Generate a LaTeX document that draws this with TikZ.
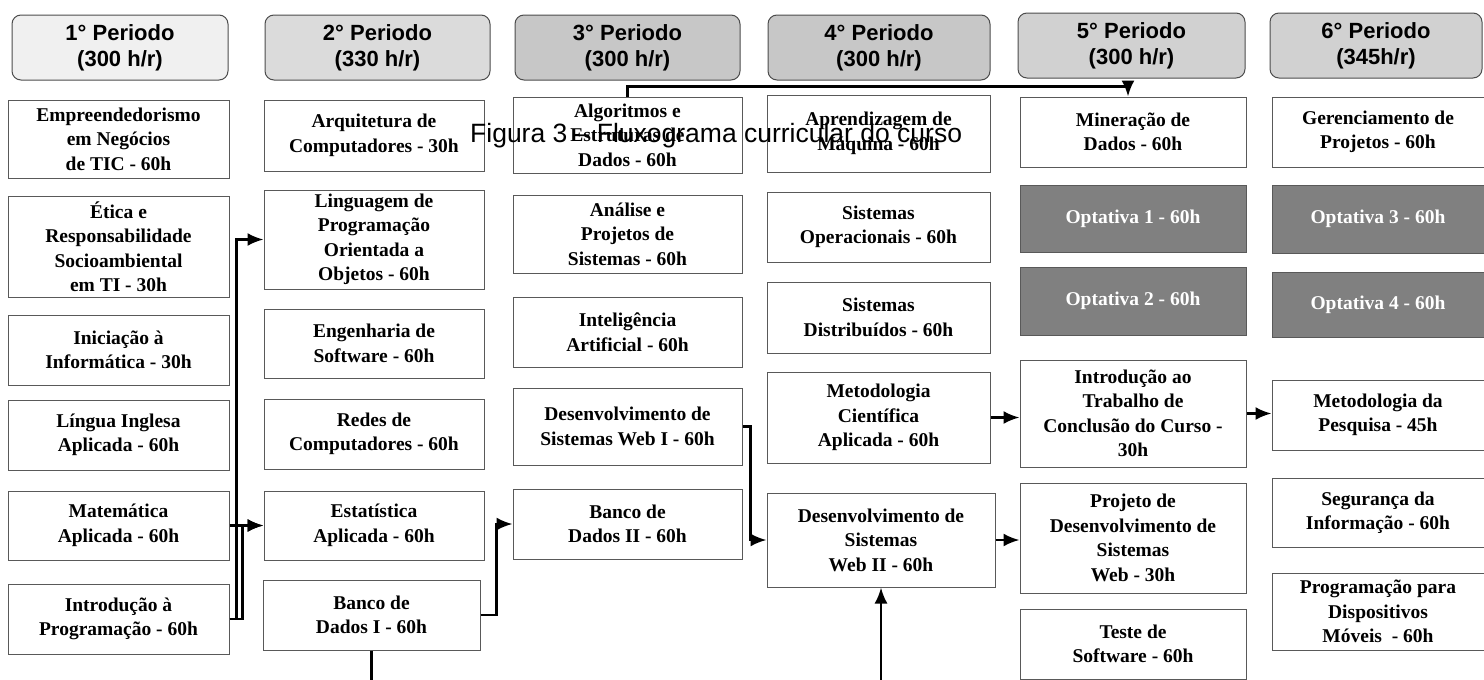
\documentclass[tikz,border=0pt]{standalone}
\usepackage{fontspec}
\setmainfont{Liberation Serif}
\newfontfamily\headfont{Liberation Sans}
\usetikzlibrary{calc}
\usetikzlibrary{arrows.meta}
\usetikzlibrary{positioning}

\begin{document}
\begin{tikzpicture}[x=1pt,y=-1pt]
    \tikzstyle{per}=[draw=black!70, line width=1pt, rounded corners=9pt, minimum height=65pt, inner sep=0pt, align=center, font=\headfont\bfseries\fontsize{22}{26}\selectfont];
    \tikzstyle{disc}=[draw=black!65, line width=1pt, fill=white, inner sep=0pt, align=center, font=\bfseries\fontsize{19.5}{24.5}\selectfont];
    \tikzstyle{opt}=[disc, fill=black!50, text=white];
    \tikzstyle{link}=[line width=2.4pt, -{Latex[length=16pt,width=13pt]}];
    \useasboundingbox (0,0) rectangle (1484,680);
    % periodos
    \foreach \n/\x/\y/\w/\g/\hr in {1/120/47.5/216/6/300 h, 2/377.5/47.5/225/14/330 h, 3/627.5/47.5/225/22/300 h,
                                    4/879/47.5/222/22/300 h, 5/1131.5/45.5/227/18/300 h, 6/1376/45.5/212/18/345h} {
      \node[per, fill=black!\g, minimum width=\w pt] (p\n) at (\x,\y) {\n° Periodo\\(\hr/r)};
    }
    % disciplinas
    \foreach \nm/\x/\y/\w/\hh/\txt in {
      emp/118.5/139/221/78/{Empreendedorismo\\em Negócios\\de TIC - 60h},
      etica/118.5/246.5/221/101/{Ética e\\Responsabilidade\\Socioambiental\\em TI - 30h},
      inic/118.5/350/221/70/{Iniciação à\\Informática - 30h},
      lingua/118.5/435/221/70/{Língua Inglesa\\Aplicada - 60h},
      mat/118.5/525.5/221/69/{Matemática\\Aplicada - 60h},
      intro/118.5/619/221/70/{Introdução à\\Programação - 60h},
      arq/374/135.5/220/71/{Arquitetura de\\Computadores - 30h},
      lpoo/374/239.5/220/99/{Linguagem de\\Programação\\Orientada a\\Objetos - 60h},
      engsw/374/343.5/220/69/{Engenharia de\\Software - 60h},
      redes/374/434/220/70/{Redes de\\Computadores - 60h},
      estat/374/525.5/220/69/{Estatística\\Aplicada - 60h},
      bd1/371.5/615/217/70/{Banco de\\Dados I - 60h},
      alg/627.5/135/229/76/{Algoritmos e\\Estruturas de\\Dados - 60h},
      anal/627.5/234/229/78/{Análise e\\Projetos de\\Sistemas - 60h},
      ia/627.5/332/229/70/{Inteligência\\Artificial - 60h},
      web1/627.5/426.5/229/77/{Desenvolvimento de\\Sistemas Web I - 60h},
      bd2/627.5/524/229/70/{Banco de\\Dados II - 60h},
      apr/878.5/133.5/223/77/{Aprendizagem de\\Máquina - 60h},
      so/878.5/227/223/70/{Sistemas\\Operacionais - 60h},
      sd/878.5/317.5/223/71/{Sistemas\\Distribuídos - 60h},
      metc/878.5/417.5/223/91/{Metodologia\\Científica\\Aplicada - 60h},
      web2/881/540/228/94/{Desenvolvimento de\\Sistemas\\Web II - 60h},
      min/1133/132/226/70/{Mineração de\\Dados - 60h},
      tcc/1133/413.5/226/107/{Introdução ao\\Trabalho de\\Conclusão do Curso -\\30h},
      pds/1133/538/226/110/{Projeto de\\Desenvolvimento de\\Sistemas\\Web - 30h},
      teste/1133/644/226/70/{Teste de\\Software - 60h},
      ger/1378/132/212/70/{Gerenciamento de\\Projetos - 60h},
      metp/1378/415/212/70/{Metodologia da\\Pesquisa - 45h},
      seg/1378/512.5/212/69/{Segurança da\\Informação - 60h},
      pdm/1378/611.5/212/77/{Programação para\\Dispositivos\\Móveis~~- 60h}} {
      \node[disc, minimum width=\w pt, minimum height=\hh pt] (\nm) at (\x,\y) {\txt};
    }
    % optativas
    \foreach \k/\x/\y/\hh in {1/1133/218.5/67, 2/1133/301/68, 3/1378/219/68, 4/1378/304.5/65} {
      \node[opt, minimum width=\ifnum\k<3 226pt\else 212pt\fi, minimum height=\hh pt] (opt\k) at (\x,\y) {Optativa \k\ - 60h};
    }
    % ligacoes
    \draw[link] (alg.north) -- ++(0,-10) -| ([xshift=-5pt]min.north);
    \draw[link] (mat.east) -- (estat.west);
    \draw[link] (intro.east) -- ++(7,0) |- (lpoo.west);
    \draw[link] (intro.east) -- ++(13,0) |- (estat.west);
    \draw[link] (bd1.east) -- ++(16,0) |- (bd2.west);
    \draw[line width=2.4pt] (bd1.south) -- ++(0,30);
    \draw[link] (web1.east) -- ++(8,0) |- (web2.west);
    \coordinate (base) at (881,680);
    \draw[link] (base) -- (web2.south);
    \draw[link] (metc.east) -- (metc.east -| tcc.west);
    \draw[link] (tcc.east) -- (tcc.east -| metp.west);
    \draw[link] (web2.east) -- (web2.east -| pds.west);
    % titulo
    \node[anchor=base west, inner sep=0pt, font=\headfont\fontsize{26.5}{30}\selectfont] (tit) at (470,142) {Figura 3 – Fluxograma curricular do curso};
\end{tikzpicture}
\end{document}
